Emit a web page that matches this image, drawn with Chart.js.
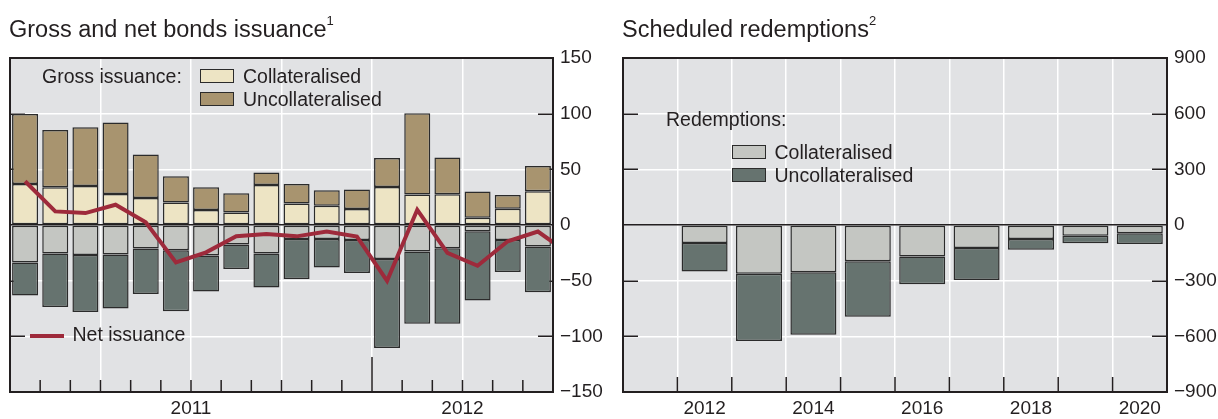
<!DOCTYPE html>
<html>
<head>
<meta charset="utf-8">
<script src="https://cdn.jsdelivr.net/npm/chart.js@4.4.1/dist/chart.umd.min.js"></script>
<style>
  html, body { margin: 0; padding: 0; background: #ffffff; }
  body { width: 1218px; height: 419px; position: relative; overflow: hidden;
         font-family: "Liberation Sans", Arial, sans-serif; color: #231f20; }
  canvas { position: absolute; top: 0; }
  .t { position: absolute; white-space: nowrap; line-height: 1; }
  .title { font-size: 23.5px; }
  .leg { font-size: 19.5px; }
  .sup { font-size: 13px; position: relative; top: -12px; }
  .sw { position: absolute; width: 34px; height: 14px; box-sizing: border-box; border: 1.5px solid #2b2b2b; }
</style>
</head>
<body>
<canvas id="c1" width="609" height="419" style="left:0;width:609px;height:419px"></canvas>
<canvas id="c2" width="609" height="419" style="left:609px;width:609px;height:419px"></canvas>

<div class="t title" style="left:9px;top:18px">Gross and net bonds issuance<span class="sup">1</span></div>
<div class="t title" style="left:622px;top:18px">Scheduled redemptions<span class="sup">2</span></div>

<div class="t leg" style="left:42px;top:66.5px">Gross issuance:</div>
<div class="sw" style="left:200px;top:69px;background:#ede4c4"></div>
<div class="sw" style="left:200px;top:92px;background:#a8946f"></div>
<div class="t leg" style="left:243px;top:67px">Collateralised</div>
<div class="t leg" style="left:243px;top:89.5px">Uncollateralised</div>

<div style="position:absolute;left:30px;top:334px;width:34px;height:4px;background:#9e2a3b"></div>
<div class="t leg" style="left:72.5px;top:325px">Net issuance</div>

<div class="t leg" style="left:666px;top:110px">Redemptions:</div>
<div class="sw" style="left:732px;top:145px;background:#c4c6c2"></div>
<div class="sw" style="left:732px;top:168px;background:#66736f"></div>
<div class="t leg" style="left:774.5px;top:143px">Collateralised</div>
<div class="t leg" style="left:774.5px;top:165.5px">Uncollateralised</div>

<script>
// ---------------- Data: gross and net bonds issuance (Jan 2011 - Jun 2012) ----------------
const months = ['Jan 2011','Feb 2011','Mar 2011','Apr 2011','May 2011','Jun 2011',
                'Jul 2011','Aug 2011','Sep 2011','Oct 2011','Nov 2011','Dec 2011',
                'Jan 2012','Feb 2012','Mar 2012','Apr 2012','May 2012','Jun 2012'];
const monthTickLabels = ['','','','','','2011','','','','','','','','','2012','','',''];
const grossCollateralised   = [36.9, 33.9, 35.1, 27.8, 24.2, 20.3, 13.4, 11.3, 36.0, 19.4, 17.3, 14.3, 34.1, 27.3, 27.6, 6.5, 14.6, 30.3];
const grossUncollateralised = [62.9, 51.5, 52.7, 64.2, 39.2, 23.5, 20.5, 17.2, 11.2, 17.5, 13.9, 17.5, 26.0, 73.1, 33.1, 23.5, 12.3, 22.8];
const redemptionsCollateralised   = [-33.6, -25.5, -26.9, -26.4, -21.2, -22.7, -27.3, -17.6, -25.5, -12.5, -12.5, -13.4, -30.5, -23.9, -20.9, -5.6, -13.4, -19.4];
const redemptionsUncollateralised = [-29.8, -48.1, -51.2, -48.7, -40.7, -54.8, -32.5, -22.0, -30.7, -36.1, -25.6, -29.8, -79.9, -64.8, -67.8, -62.3, -28.9, -40.9];
// last value (Jul 2012) is only visible as the line running off the right edge
const netIssuance = [39.3, 12.2, 10.7, 18.2, 2.5, -33.6, -24.6, -10.1, -8.0, -10.2, -5.9, -10.4, -50.1, 13.7, -25.1, -36.6, -14.6, -5.9, -25.0];
const leftTicks = { min: -150, max: 150, step: 50 };

// ---------------- Data: scheduled redemptions (2011 - 2020) ----------------
const years = ['2011','2012','2013','2014','2015','2016','2017','2018','2019','2020'];
const yearTickLabels = ['','2012','','2014','','2016','','2018','','2020'];
const schedCollateralised   = [null, -97, -263, -254, -196, -170, -124, -76, -58, -44];
const schedUncollateralised = [null, -154, -362, -337, -298, -149, -173, -58, -41, -59];
const rightTicks = { min: -900, max: 900, step: 300 };

// ---------------- Styling ----------------
const C = {
  bg: '#e1e2e4', grid: '#ffffff', dark: '#231f20', edge: '#2b2b2b',
  cream: '#ede4c4', tan: '#a8946f', lgrey: '#c4c6c2', slate: '#66736f', red: '#9e2a3b'
};
Chart.defaults.font.family = '"Liberation Sans", Arial, sans-serif';
Chart.defaults.color = C.dark;
Chart.defaults.animation = false;

const minus = v => String(v).replace('-', '\u2212');

const frame = {
  id: 'frame',
  beforeDraw(chart) {
    const {ctx, chartArea: a} = chart;
    ctx.save(); ctx.fillStyle = C.bg;
    ctx.fillRect(a.left, a.top, a.right - a.left, a.bottom - a.top);
    ctx.restore();
  },
  beforeDatasetsDraw(chart, args, opts) {
    const {ctx, chartArea: a, scales} = chart;
    const y = scales.y, x = scales.x;
    ctx.save();
    ctx.strokeStyle = C.dark; ctx.lineWidth = 1.5;
    ctx.beginPath();
    y.ticks.forEach(t => {
      if (t.value === y.min || t.value === y.max || t.value === 0) return;
      const py = Math.round(y.getPixelForValue(t.value)) + 0.25;
      ctx.moveTo(a.left, py); ctx.lineTo(a.left + 15, py);
      ctx.moveTo(a.right, py); ctx.lineTo(a.right - 15, py);
    });
    const n = chart.data.labels.length;
    for (let k = 1; k < n; k++) {
      const px = (x.getPixelForValue(k - 1) + x.getPixelForValue(k)) / 2;
      const len = opts.tickLen(k);
      ctx.moveTo(px, a.bottom); ctx.lineTo(px, a.bottom - len);
    }
    ctx.stroke();
    ctx.restore();
  },
  afterDatasetsDraw(chart) {
    const {ctx, chartArea: a} = chart;
    ctx.save(); ctx.strokeStyle = C.dark; ctx.lineWidth = 2;
    ctx.strokeRect(a.left, a.top, a.right - a.left, a.bottom - a.top);
    ctx.restore();
  }
};

function barSet(label, data, color) {
  return { type: 'bar', label, data, backgroundColor: color, borderColor: C.edge,
           borderWidth: 1.5, borderSkipped: false, stack: 's', grouped: false, order: 1,
           xAxisID: 'x', yAxisID: 'y' };
}

function yScale(t, width) {
  return {
    position: 'right', stacked: true, min: t.min, max: t.max,
    border: { display: false },
    grid: { drawTicks: false, lineWidth: 1.5,
            color: c => c.tick && c.tick.value === 0 ? C.dark :
                        (c.tick && (c.tick.value === t.min || c.tick.value === t.max) ? 'rgba(0,0,0,0)' : C.grid) },
    ticks: { stepSize: t.step, padding: 7, font: { size: 19 }, color: C.dark, callback: v => minus(v) },
    afterFit: s => { s.width = width; }
  };
}

function xScale(tickLabels, gridFn, labelOffset) {
  return {
    type: 'category', stacked: true, offset: true,
    border: { display: false },
    grid: { offset: true, drawTicks: false, lineWidth: 1.5, color: gridFn },
    ticks: { autoSkip: false, maxRotation: 0, padding: 5, labelOffset, font: { size: 19 }, color: C.dark,
             callback: (v, i) => tickLabels[i] },
    afterFit: s => { s.height = 27; }
  };
}

// ---------------- Left chart ----------------
new Chart(document.getElementById('c1'), {
  type: 'bar',
  data: {
    labels: months,
    datasets: [
      { type: 'line', label: 'Net issuance', xAxisID: 'xl', yAxisID: 'y', stack: 'net', order: 0,
        data: netIssuance.map((v, i) => ({ x: i, y: v })),
        borderColor: C.red, borderWidth: 4, pointRadius: 0, tension: 0, fill: false, clip: 0 },
      barSet('Gross collateralised', grossCollateralised, C.cream),
      barSet('Gross uncollateralised', grossUncollateralised, C.tan),
      barSet('Redemptions collateralised', redemptionsCollateralised, C.lgrey),
      barSet('Redemptions uncollateralised', redemptionsUncollateralised, C.slate)
    ]
  },
  options: {
    responsive: false, devicePixelRatio: 1,
    layout: { padding: { left: 10, top: 58, right: 0, bottom: 0 } },
    datasets: { bar: { categoryPercentage: 1, barPercentage: 0.862 } },
    plugins: { legend: { display: false }, tooltip: { enabled: false },
               frame: { tickLen: k => (k === 12 ? 35 : 12) } },
    scales: {
      x: xScale(monthTickLabels, c => (c.index !== undefined && c.index > 0 && c.index % 3 === 0) ? C.grid : 'rgba(0,0,0,0)', 15.08),
      xl: { type: 'linear', axis: 'x', display: false, offset: false, grace: 0,
            min: -0.5, max: months.length - 0.5 },
      y: yScale(leftTicks, 56)
    }
  },
  plugins: [frame]
});

// ---------------- Right chart ----------------
new Chart(document.getElementById('c2'), {
  type: 'bar',
  data: {
    labels: years,
    datasets: [
      barSet('Collateralised', schedCollateralised, C.lgrey),
      barSet('Uncollateralised', schedUncollateralised, C.slate)
    ]
  },
  options: {
    responsive: false, devicePixelRatio: 1,
    layout: { padding: { left: 14, top: 58, right: 0, bottom: 0 } },
    datasets: { bar: { categoryPercentage: 1, barPercentage: 0.846 } },
    plugins: { legend: { display: false }, tooltip: { enabled: false },
               frame: { tickLen: k => 15 } },
    scales: {
      x: xScale(yearTickLabels, c => (c.index !== undefined && c.index > 0) ? C.grid : 'rgba(0,0,0,0)', 0),
      y: yScale(rightTicks, 51)
    }
  },
  plugins: [frame]
});
</script>
</body>
</html>
